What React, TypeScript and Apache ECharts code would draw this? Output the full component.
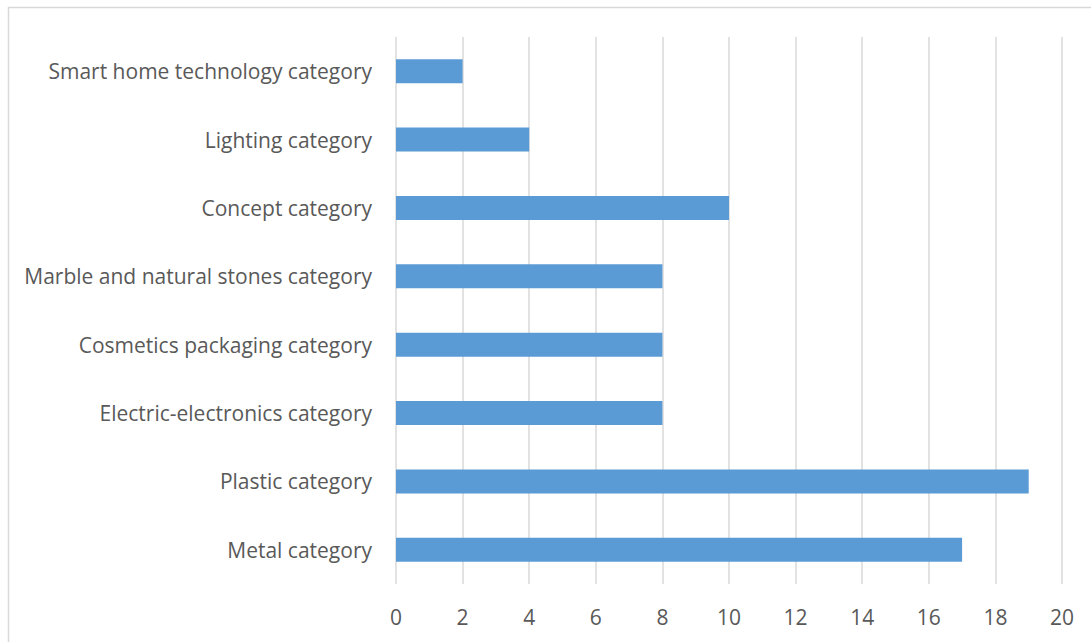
import React, { useEffect, useRef } from "react";
import * as echarts from "echarts";

const categories = [
  "Smart home technology category",
  "Lighting category",
  "Concept category",
  "Marble and natural stones category",
  "Cosmetics packaging category",
  "Electric-electronics category",
  "Plastic category",
  "Metal category",
];
const values = [2, 4, 10, 8, 8, 8, 19, 17];

export default function App() {
  const ref = useRef<HTMLDivElement>(null);
  useEffect(() => {
    if (!ref.current) return;
    const chart = echarts.init(ref.current, null, { renderer: "svg" });
    chart.setOption({
      animation: false,
      backgroundColor: "#ffffff",
      textStyle: { fontFamily: "Open Sans" },
      graphic: [
        {
          type: "rect",
          shape: { x: 8.5, y: 7.5, width: 1090, height: 700 },
          style: { fill: "none", stroke: "#d9d9d9", lineWidth: 1.5 },
          silent: true,
        },
      ],
      grid: { left: 396, right: 29, top: 37, bottom: 58, containLabel: false },
      xAxis: {
        type: "value",
        min: 0,
        max: 20,
        interval: 2,
        axisLine: { show: false },
        axisTick: { show: false },
        splitLine: { show: true, lineStyle: { color: "#d9d9d9", width: 1.5 } },
        axisLabel: { color: "#595959", fontSize: 21, margin: 22 },
      },
      yAxis: {
        type: "category",
        data: categories,
        inverse: true,
        axisLine: { show: false },
        axisTick: { show: false },
        axisLabel: { color: "#595959", fontSize: 21, margin: 24 },
      },
      series: [
        {
          type: "bar",
          data: values,
          barWidth: "35%",
          itemStyle: { color: "#5b9bd5" },
        },
      ],
    });
    return () => chart.dispose();
  }, []);
  return (
    <div
      ref={ref}
      style={{ position: "absolute", left: 0, top: 0, width: 1091, height: 642 }}
    />
  );
}
